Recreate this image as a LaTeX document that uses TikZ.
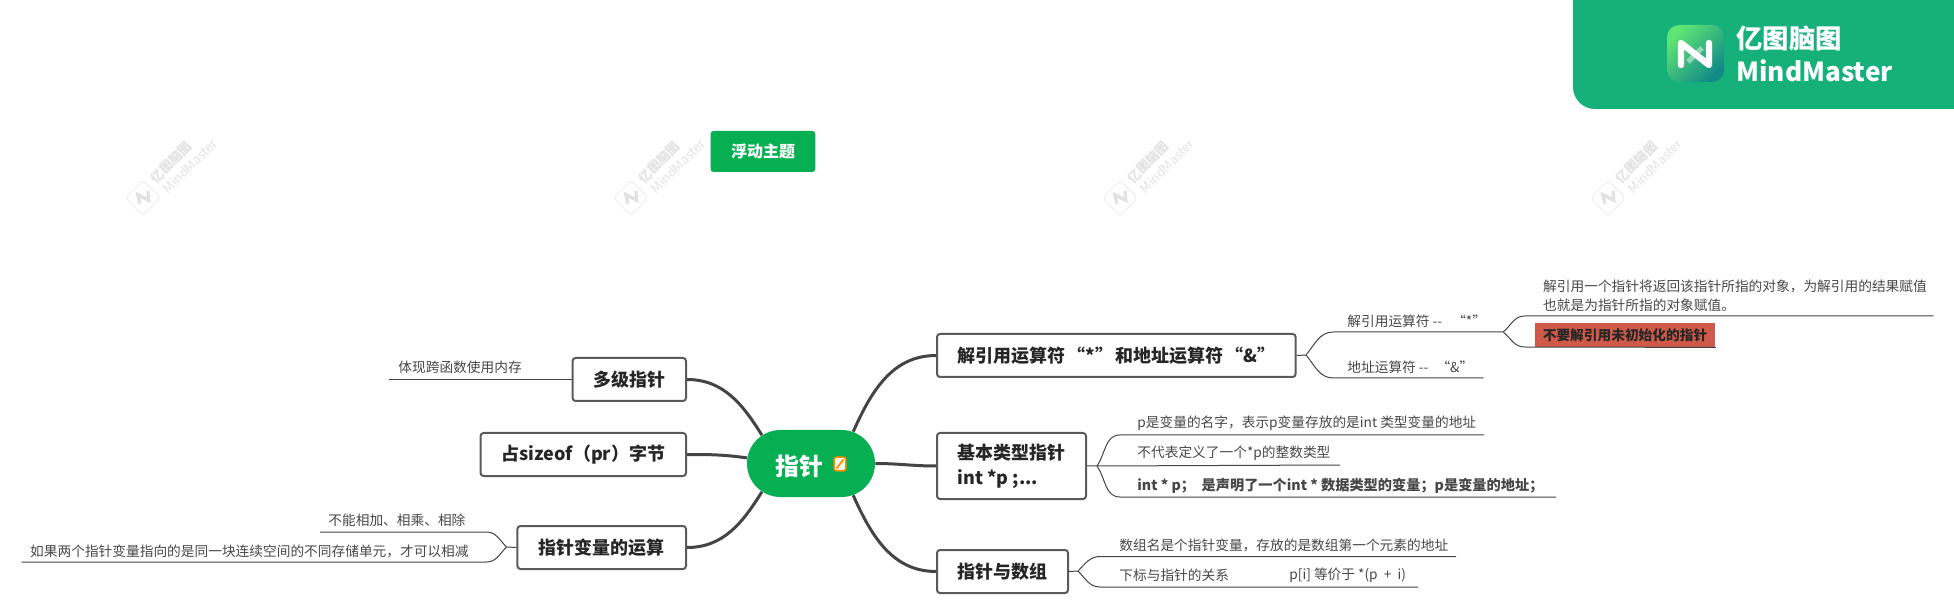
\documentclass[tikz,border=0pt]{standalone}
\usepackage{fontspec}
\setmainfont{Noto Sans CJK SC}
\usetikzlibrary{shapes.misc}

\definecolor{rootgreen}{HTML}{05AF52}
\definecolor{bannergreen}{HTML}{16B07A}
\definecolor{logolight}{HTML}{5FE573}
\definecolor{logodark}{HTML}{128A88}
\definecolor{linegray}{HTML}{444444}
\definecolor{boxgray}{HTML}{5A5A5A}
\definecolor{warnred}{HTML}{CF5A4A}
\definecolor{markgray}{HTML}{E2E2E2}

\tikzset{
  topic/.style={draw=boxgray, line width=1pt, rounded corners=1.5pt, inner sep=0pt,
    align=left, text=black!85, font=\fontsize{9}{12.5}\selectfont\bfseries},
  leaf/.style={inner sep=0pt, anchor=west, align=left, text=black!72,
    font=\fontsize{6.85}{9.5}\selectfont},
  branch/.style={draw=linegray, line width=1.5pt},
  twig/.style={draw=linegray, line width=0.5pt},
  wmark/.style={text=markgray, inner sep=0pt, rotate=45, font=\fontsize{6.4}{8}\selectfont}
}

\begin{document}
\begin{tikzpicture}[x=0.5pt,y=-0.5pt]
\useasboundingbox (0,0) rectangle (1954,614);

% watermark
\foreach \i/\xx in {1/143,2/631,3/1120,4/1608} {
  \node[draw=markgray!70, line width=0.4pt, rotate=45, minimum size=12.5pt, rounded corners=2pt] (wm\i) at (\xx,198) {};
  \draw[markgray, line width=1.7pt] ({\xx-3.3},203.7) -- ({\xx-5},194.7) -- ({\xx+5.7},200.3) -- ({\xx+5},190.7);
  \node[wmark] (wmcn\i) at ({\xx+28.5},162.5) {\bfseries 亿图脑图};
  \node[wmark] (wmen\i) at ({\xx+47},166) {MindMaster};
}

% banner
\fill[bannergreen] (1954,0) -- (1573,0) [rounded corners=11pt] -- (1573,109) [sharp corners] -- (1954,109) -- cycle;
\node[rounded corners=6pt, minimum size=28.5pt, inner sep=0pt, top color=logolight, bottom color=logodark, shading angle=45] (logo) at (1695.5,53.5) {};
\draw[white, line width=3.2pt, line cap=round, line join=round] (1681,65) -- (1681,43) -- (1709,65) -- (1709,43);
\draw[white, opacity=0.45, line width=2.5pt] (1688,62) -- (1702,48);
\node[anchor=west, inner sep=0pt, text=white, font=\fontsize{13.2}{15}\selectfont\bfseries] (brandcn) at (1736,38) {亿图脑图};
\node[anchor=west, inner sep=0pt, text=white, font=\fontsize{13.1}{15}\selectfont\bfseries] (branden) at (1736,71) {MindMaster};

% floating topic
\node[fill=rootgreen, rounded corners=1.5pt, minimum width=52.4pt, minimum height=20.5pt, inner sep=0pt, text=white, font=\fontsize{8}{10}\selectfont\bfseries] (float) at (763,151.5) {浮动主题};

% root
\node[rounded rectangle, fill=rootgreen, minimum width=64pt, minimum height=33.5pt, inner sep=0pt] (root) at (811,463.5) {};
\node[text=white, inner sep=0pt, font=\fontsize{12}{14}\selectfont\bfseries] (roottext) at (799,466) {指针};
\node[draw=orange!90!yellow, fill=white, line width=0.8pt, rounded corners=1.2pt, minimum width=5.8pt, minimum height=6.8pt, inner sep=0pt] (note) at (840,464) {};
\draw[orange!90!yellow, line width=0.9pt] (836.5,468.5) -- (843.5,459.5);

% topics
\node[topic, minimum width=179.3pt, minimum height=21.5pt] (deref) at (1116.3,355.5) {解引用运算符\hspace{1pt}“*”\hspace{1pt}和地址运算符\hspace{1pt}“\&”};
\node[topic, minimum width=74.5pt, minimum height=33pt] (basic) at (1011.5,466) {基本类型指针\\int *p ;...};
\node[topic, minimum width=65.5pt, minimum height=21.5pt] (array) at (1002.5,571.5) {指针与数组};
\node[topic, minimum width=56.7pt, minimum height=21.5pt] (multi) at (629.3,379.5) {多级指针};
\node[topic, minimum width=102.7pt, minimum height=21.5pt] (size) at (583.3,454.5) {占sizeof（pr）字节};
\node[topic, minimum width=84.3pt, minimum height=21.5pt] (calc) at (601.7,547.5) {指针变量的运算};

\draw[branch] (root.37) to[out=66, in=180] (deref.west);
\draw[branch] (root.east) to[out=0, in=180] (basic.west);
\draw[branch] (root.-37) to[out=-66, in=180] (array.west);
\draw[branch] (multi.east) to[out=0, in=122] (root.150);
\draw[branch] (size.east) to[out=0, in=172] (root.175);
\draw[branch] (calc.east) to[out=0, in=-122] (root.210);

% leaves
\node[leaf] (derefA) at (1347,321) {解引用运算符 -{}- \hspace{3.5pt}“*”};
\node[leaf] (derefB) at (1347,367) {地址运算符 -{}- \hspace{2.5pt}“\&”};
\node[leaf] (derefAA) at (1542.8,295.5) {解引用一个指针将返回该指针所指的对象，为解引用的结果赋值\\也就是为指针所指的对象赋值。};
\node[fill=warnred, minimum width=90.4pt, minimum height=12pt, inner sep=0pt, text=black!85, font=\fontsize{6.85}{9}\selectfont\bfseries] (warn) at (1625,335) {不要解引用未初始化的指针};
\node[leaf] (basicA) at (1137,423) {p是变量的名字，表示p变量存放的是int 类型变量的地址};
\node[leaf] (basicB) at (1137,453) {不代表定义了一个*p的整数类型};
\node[leaf, font=\fontsize{7.1}{9.5}\selectfont\bfseries] (basicC) at (1137,486) {int * p；\ \ 是声明了一个int * 数据类型的变量；p是变量的地址；};
\node[leaf] (arrayA) at (1119,545) {数组名是个指针变量，存放的是数组第一个元素的地址};
\node[leaf] (arrayB) at (1119,575) {下标与指针的关系};
\node[leaf] (arrayBB) at (1289,575) {p[i]\ 等价于\ *(p\ \ +\ \ i)};
\node[leaf] (multiA) at (398,367) {体现跨函数使用内存};
\node[leaf] (calcA) at (328,520) {不能相加、相乘、相除};
\node[leaf] (calcB) at (29.8,551) {如果两个指针变量指向的是同一块连续空间的不同存储单元，才可以相减};

% forks and line ends
\coordinate (derefFork) at (1306,355);
\coordinate (derefAend) at (1503.2,332);
\coordinate (derefBend) at (1483.6,378);
\coordinate (derefAAend) at (1933.5,316);
\coordinate (basicFork) at (1097,466);
\coordinate (basicAend) at (1484,435);
\coordinate (basicBend) at (1340,465);
\coordinate (basicCend) at (1556,497);
\coordinate (arrayFork) at (1078,571);
\coordinate (arrayAend) at (1456,556.5);
\coordinate (arrayBend) at (1418,587);
\coordinate (multiAend) at (389,379.5);
\coordinate (calcFork) at (506.5,547);
\coordinate (calcAend) at (320,532);
\coordinate (calcBend) at (21.6,562);

\draw[twig] (deref.east) -- (derefFork) to[out=50, in=180] (1333.4,332) -- (derefAend);
\draw[twig] (derefFork) to[out=-50, in=180] (1333.4,378) -- (derefBend);
\draw[twig] (derefAend) to[out=40, in=180] (1524.6,316) -- (derefAAend);
\draw[twig] (derefAend) to[out=-40, in=180] (1524.6,347) -- (warn.south east);
\draw[twig] (basic.east) -- (basicFork) to[out=55, in=180] (1120,435) -- (basicAend);
\draw[twig] (basicFork) -- (basicBend);
\draw[twig] (basicFork) to[out=-55, in=180] (1120,497) -- (basicCend);
\draw[twig] (array.east) -- (arrayFork) to[out=45, in=180] (1100,556.5) -- (arrayAend);
\draw[twig] (arrayFork) to[out=-45, in=180] (1100,587) -- (arrayBend);
\draw[twig] (multi.west) -- (multiAend);
\draw[twig] (calc.west) -- (calcFork) to[out=135, in=0] (486.5,532) -- (calcAend);
\draw[twig] (calcFork) to[out=-135, in=0] (486.5,562) -- (calcBend);

\end{tikzpicture}
\end{document}
